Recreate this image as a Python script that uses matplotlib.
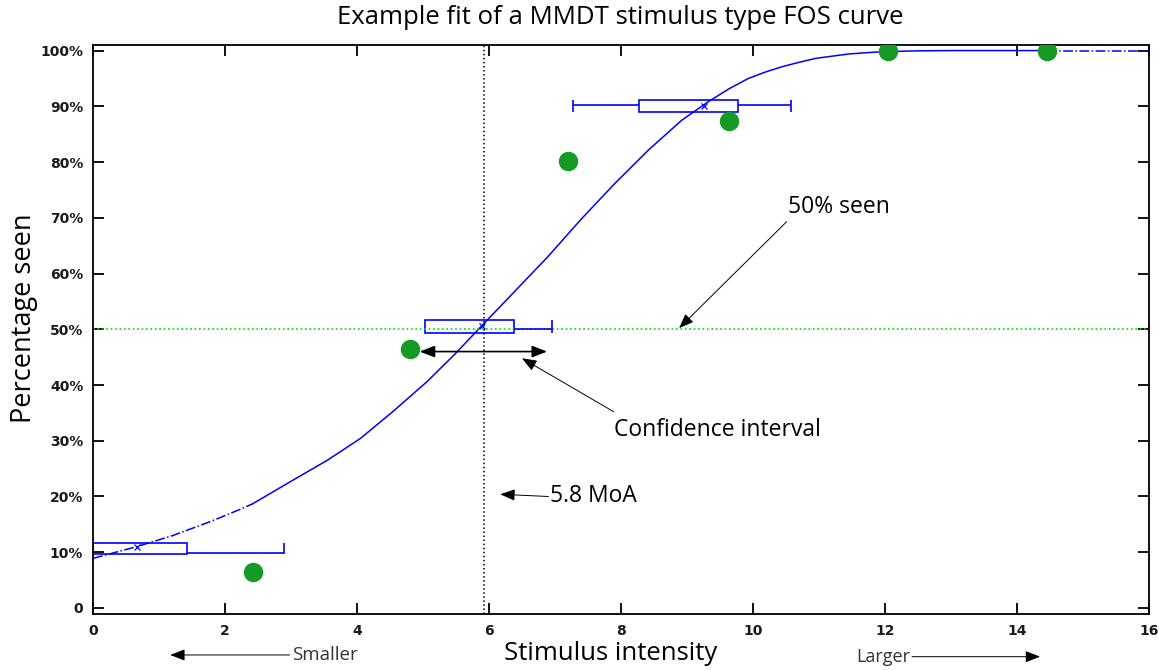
import numpy as np
import matplotlib
matplotlib.use('Agg')
from matplotlib import pyplot as plt
from matplotlib.patches import Rectangle

# Observed percentage seen at each stimulus level
stim_x = [2.42, 4.80, 7.20, 9.63, 12.05, 14.45]
seen_pct = [6.5, 46.4, 80.2, 87.4, 99.9, 99.9]

# Fitted FOS curve
curve_x = [0, 0.66, 1.21, 1.8, 2.23, 2.42, 3.04, 3.55, 4.05, 4.55, 5.06, 5.48,
           5.88, 6.39, 6.89, 7.40, 7.91, 8.42, 8.92, 9.32, 9.63, 9.93, 10.2,
           10.44, 10.7, 10.95, 11.2, 11.46, 11.7, 11.96, 12.5, 13.0, 14.45, 16.0]
curve_y = [8.9, 11.0, 13.0, 15.6, 17.7, 18.7, 23.0, 26.5, 30.4, 35.3, 40.6, 45.5,
           50.5, 56.8, 63.0, 69.8, 76.2, 82.2, 87.5, 90.8, 93.1, 95.0, 96.2,
           97.1, 97.9, 98.6, 99.0, 99.4, 99.6, 99.8, 99.95, 100.0, 100.0, 100.0]

# Confidence intervals of the thresholds at 10%, 50% and 90%
ci_level = [9.9, 50.0, 90.2]
box_lo = [0.0, 5.03, 8.27]
box_hi = [1.42, 6.38, 9.77]
box_bottom = [9.7, 49.4, 88.9]
box_top = [11.7, 51.6, 91.2]
whisk_lo = [0.0, 5.03, 7.28]
whisk_hi = [2.89, 6.96, 10.57]
ci_mid_x = [0.66, 5.90, 9.25]
ci_mid_y = [10.9, 50.6, 90.0]

threshold = 5.93
yticks = list(range(0, 101, 10))
ytick_labels = ['0'] + [f'{v}%' for v in yticks[1:]]
xticks = list(range(0, 17, 2))

BLUE = '#0000ff'
GREEN = '#159a25'
TXT = 'Open Sans'

fig = plt.figure(figsize=(11.59, 6.70), dpi=100)
ax = fig.add_axes([93 / 1159, 1 - 614 / 670, 1056 / 1159, 569 / 670])

# Fit curve: solid inside the tested range, dash-dot outside
cx = np.array(curve_x)
cy = np.array(curve_y)
inside = (cx >= stim_x[0]) & (cx <= stim_x[-1])
left = cx <= stim_x[0]
right = cx >= stim_x[-1]
ax.plot(cx[inside], cy[inside], '-', color=BLUE, lw=1.1)
ax.plot(cx[left], cy[left], '-.', color=BLUE, lw=1.1)
ax.plot(cx[right], cy[right], '-.', color=BLUE, lw=1.1)

# Reference lines
ax.axhline(50, color='#00e000', ls=':', lw=1.2)
ax.axvline(threshold, color='black', ls=':', lw=1.1)

# Box plots of the thresholds
for i in range(len(ci_level)):
    ax.add_patch(Rectangle((box_lo[i], box_bottom[i]), box_hi[i] - box_lo[i],
                           box_top[i] - box_bottom[i], fill=False,
                           edgecolor=BLUE, lw=1.2))
    ax.hlines(ci_level[i], box_hi[i], whisk_hi[i], color=BLUE, lw=1.2)
    ax.vlines(whisk_hi[i], box_bottom[i], box_top[i], color=BLUE, lw=1.2)
    if whisk_lo[i] < box_lo[i]:
        ax.hlines(ci_level[i], whisk_lo[i], box_lo[i], color=BLUE, lw=1.2)
        ax.vlines(whisk_lo[i], box_bottom[i], box_top[i], color=BLUE, lw=1.2)
ax.plot(ci_mid_x, ci_mid_y, 'x', color=BLUE, ms=5, mew=0.9)

# Data points
ax.plot(stim_x, seen_pct, 'o', color=GREEN, ms=13, zorder=5)

ax.set_xlim(0, 16)
ax.set_ylim(-1.08, 101)
ax.set_xticks(xticks)
ax.set_yticks(yticks)
ax.set_yticklabels(ytick_labels)
ax.tick_params(direction='in', top=True, right=True, length=8, width=1.3,
               labelsize=10, pad=7)
for lab in ax.get_xticklabels() + ax.get_yticklabels():
    lab.set_fontweight('bold')
    lab.set_color('#1a1a1a')
for sp in ax.spines.values():
    sp.set_linewidth(1.3)

# Annotations
head = dict(arrowstyle='-|>,head_length=0.9,head_width=0.35', color='black',
            lw=0.7, shrinkA=0, shrinkB=0)
ax.annotate('', xy=(8.88, 50.2), xytext=(10.51, 69.3), arrowprops=head)
ax.text(10.53, 72.0, '50% seen', fontsize=16.5, family=TXT, va='center')
ax.annotate('', xy=(4.95, 46.0), xytext=(6.88, 46.0),
            arrowprops=dict(arrowstyle='<|-|>,head_length=0.9,head_width=0.35',
                            color='black', lw=1.2, shrinkA=0, shrinkB=0))
ax.annotate('', xy=(6.5, 44.8), xytext=(7.89, 35.2), arrowprops=head)
ax.text(7.9, 31.9, 'Confidence interval', fontsize=16.5, family=TXT, va='center')
ax.annotate('', xy=(6.17, 20.4), xytext=(6.9, 20.0), arrowprops=head)
ax.text(6.92, 20.0, '5.8 MoA', fontsize=16.5, family=TXT, va='center')

# Direction hints under the axis
trans = ax.get_xaxis_transform()
ax.annotate('', xy=(1.17, -0.072), xytext=(2.98, -0.072), xycoords=trans,
            textcoords=trans, arrowprops=head, annotation_clip=False)
ax.text(3.02, -0.072, 'Smaller', transform=trans, fontsize=13.5, family=TXT,
        va='center', color='#333333')
ax.annotate('', xy=(14.35, -0.075), xytext=(12.41, -0.075), xycoords=trans,
            textcoords=trans, arrowprops=head, annotation_clip=False)
ax.text(12.39, -0.075, 'Larger', transform=trans, fontsize=13, family=TXT,
        va='center', ha='right', color='#333333')

ax.set_xlabel('Stimulus intensity', fontsize=18.5, family=TXT)
ax.xaxis.set_label_coords(0.49, -0.048)
ax.set_ylabel('Percentage seen', fontsize=19.5, family=TXT)
ax.yaxis.set_label_coords(-0.052, 0.52)

fig.text(620 / 1159, 1 - 18 / 670, 'Example fit of a MMDT stimulus type FOS curve',
         fontsize=18.5, family=TXT, ha='center', va='center')

fig.savefig('out.png', dpi=100)
